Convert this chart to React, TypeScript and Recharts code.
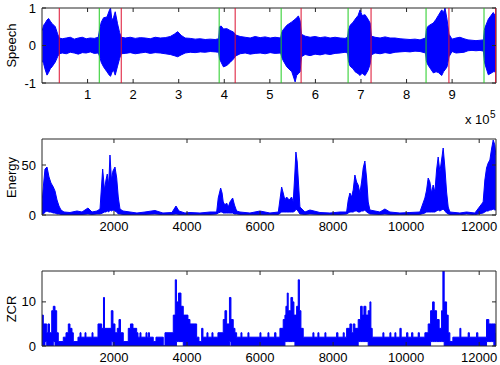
import { ComposedChart, Area, XAxis, YAxis, ReferenceLine, ReferenceArea } from "recharts";

const FONT = '"Liberation Sans", Arial, Helvetica, sans-serif';
const AX = "#262626";
const BLUE = "#0000ff";
const RED = "#dd1030";
const GREEN = "#22cc22";

// speech waveform envelope, x in units of 1e5 samples
const speechPos = [
  0.007, 0.035, 0.072, 0.11, 0.145, 0.182, 0.219, 0.292, 0.342, 0.379,
  0.445, 0.533, 0.621, 0.708, 0.796, 0.884, 0.971, 1.059, 1.147, 1.235,
  1.268, 1.3, 1.351, 1.425, 1.482, 1.504, 1.535, 1.57, 1.607, 1.658, 1.702, 1.739,
  1.827, 1.936, 2.046, 2.156, 2.265, 2.375, 2.485, 2.594, 2.704, 2.814, 2.901, 2.978, 3.055, 3.142, 3.252, 3.362, 3.472, 3.581, 3.691, 3.8, 3.877,
  3.895, 3.932, 3.982, 4.057, 4.129, 4.202, 4.25,
  4.349, 4.458, 4.568, 4.678, 4.787, 4.897, 5.007, 5.116, 5.237,
  5.259, 5.292, 5.373, 5.482, 5.555, 5.588, 5.627, 5.664, 5.693,
  5.774, 5.884, 5.993, 6.103, 6.213, 6.322, 6.432, 6.542, 6.651, 6.706,
  6.724, 6.761, 6.827, 6.871, 6.936, 6.98, 7.024, 7.09, 7.156, 7.2, 7.228,
  7.309, 7.419, 7.529, 7.638, 7.748, 7.857, 7.967, 8.077, 8.186, 8.296, 8.417,
  8.434, 8.461, 8.515, 8.588, 8.647, 8.697, 8.772, 8.811, 8.844, 8.888, 8.932,
  8.998, 9.086, 9.173, 9.261, 9.349, 9.436, 9.524, 9.612, 9.689,
  9.706, 9.722, 9.794, 9.853, 9.903, 9.941, 9.963,
];
const speechLow = [
  -0.4, -0.48, -0.65, -0.79, -0.72, -0.62, -0.57, -0.44, -0.3, -0.22,
  -0.2, -0.22, -0.18, -0.2, -0.23, -0.19, -0.2, -0.17, -0.21, -0.2,
  -0.3, -0.45, -0.57, -0.7, -0.8, -0.82, -0.72, -0.66, -0.79, -0.55, -0.35, -0.22,
  -0.21, -0.19, -0.22, -0.2, -0.18, -0.21, -0.19, -0.2, -0.22, -0.24, -0.27, -0.3, -0.25, -0.2, -0.18, -0.19, -0.17, -0.18, -0.16, -0.17, -0.18,
  -0.35, -0.45, -0.57, -0.53, -0.45, -0.36, -0.28,
  -0.22, -0.2, -0.23, -0.21, -0.2, -0.22, -0.19, -0.21, -0.2,
  -0.3, -0.4, -0.57, -0.7, -0.97, -0.8, -0.75, -0.7, -0.3,
  -0.24, -0.27, -0.23, -0.25, -0.22, -0.24, -0.21, -0.2, -0.18, -0.2,
  -0.4, -0.55, -0.62, -0.7, -0.75, -0.8, -0.74, -0.8, -0.66, -0.5, -0.25,
  -0.2, -0.22, -0.19, -0.21, -0.18, -0.17, -0.16, -0.17, -0.15, -0.16, -0.2,
  -0.4, -0.5, -0.6, -0.73, -0.7, -0.72, -0.8, -0.7, -0.65, -0.57, -0.3,
  -0.16, -0.2, -0.19, -0.18, -0.14, -0.13, -0.14, -0.13, -0.15,
  -0.4, -0.5, -0.78, -0.74, -0.7, -0.7, -0.7,
];
const speechHigh = [
  0.4, 0.54, 0.6, 0.68, 0.72, 0.65, 0.59, 0.5, 0.31, 0.2,
  0.18, 0.2, 0.22, 0.17, 0.2, 0.22, 0.18, 0.2, 0.19, 0.22,
  0.45, 0.62, 0.74, 0.76, 0.95, 1.0, 0.67, 0.75, 0.9, 0.58, 0.35, 0.22,
  0.2, 0.22, 0.19, 0.21, 0.2, 0.18, 0.22, 0.2, 0.21, 0.24, 0.3, 0.37, 0.27, 0.2, 0.19, 0.17, 0.18, 0.16, 0.17, 0.16, 0.18,
  0.5, 0.52, 0.44, 0.45, 0.4, 0.36, 0.28,
  0.24, 0.22, 0.2, 0.24, 0.21, 0.23, 0.2, 0.22, 0.2,
  0.35, 0.42, 0.54, 0.63, 0.7, 0.74, 0.79, 0.66, 0.3,
  0.25, 0.22, 0.24, 0.21, 0.23, 0.2, 0.22, 0.2, 0.19, 0.22,
  0.4, 0.54, 0.62, 0.7, 0.8, 0.95, 0.8, 0.82, 0.7, 0.6, 0.25,
  0.22, 0.2, 0.23, 0.2, 0.2, 0.18, 0.17, 0.16, 0.17, 0.15, 0.2,
  0.4, 0.5, 0.55, 0.6, 0.7, 0.8, 0.95, 0.88, 1.0, 0.7, 0.3,
  0.17, 0.2, 0.22, 0.18, 0.15, 0.14, 0.13, 0.14, 0.15,
  0.4, 0.48, 0.7, 0.8, 0.88, 0.8, 0.85,
];
const speechStarts = [1.257, 3.888, 5.248, 6.717, 8.428, 9.7];
const speechEnds = [0.379, 1.739, 4.239, 5.686, 7.221, 8.93, 9.955];

// short-time energy, x in frames
const energyFrame = [
  30, 71, 112, 167, 222, 276, 339, 386, 441, 495, 550,
  632, 796, 988, 1125, 1289, 1399, 1535, 1618,
  1691, 1741, 1782, 1817, 1856, 1891, 1932, 1973, 2028, 2075, 2118, 2165,
  2247, 2439, 2629, 2848, 3122, 3341, 3587, 3698, 3780, 3944, 4081, 4355, 4629, 4812,
  4855, 4921, 4960, 4992, 5040, 5085, 5130, 5176, 5250, 5300, 5359,
  5449, 5723, 5997, 6271, 6500,
  6591, 6634, 6680, 6727, 6799, 6864, 6908, 6955, 6982, 7018, 7056, 7092,
  7229, 7366, 7640, 7914, 8188, 8370,
  8414, 8460, 8507, 8550, 8597, 8643, 8687, 8734, 8780, 8824, 8870, 8917, 8961, 9008,
  9281, 9418, 9555, 9829, 10102, 10376,
  10513, 10560, 10603, 10650, 10696, 10740, 10787, 10833, 10877, 10924, 10970, 11014, 11061, 11107, 11151,
  11197, 11471, 11654, 11881,
  12108, 12155, 12201, 12246, 12292, 12338, 12383, 12429, 12456,
];
const energyHigh = [
  12, 30, 46, 48, 38, 32, 28, 24, 15, 9, 5,
  3, 2.5, 4, 3, 7, 3, 4, 6,
  46, 25, 35, 41, 30, 60, 35, 44, 48, 37, 18, 6,
  4, 3, 2, 3, 4.5, 2, 2.5, 9, 4, 2, 2.5, 2, 3, 3,
  17, 27, 22, 13, 10, 12, 8, 13, 17, 10, 4,
  3, 2, 4, 2, 3,
  28, 22, 15, 18, 15, 18, 13, 43, 63, 53, 30, 8,
  3, 5, 2.5, 2, 3, 3,
  15, 22, 18, 25, 40, 33, 30, 22, 33, 47, 54, 37, 13, 5,
  3, 6, 3, 2, 2.5, 3,
  17, 25, 37, 33, 22, 30, 23, 45, 58, 43, 55, 67, 47, 23, 8,
  3, 2, 3, 2,
  13, 35, 47, 52, 55, 66, 75, 70, 60,
];
const energyLow = [
  0, 1, 3, 4, 3, 3, 2, 2, 1, 1, 0.5,
  0.5, 0.5, 0.5, 0.5, 1, 0.5, 1, 1,
  2, 3, 3, 4, 3, 5, 4, 5, 4, 3, 1, 1,
  0.5, 0.5, 0.3, 0.5, 1, 0.3, 0.5, 1, 0.5, 0.3, 0.5, 0.3, 0.5, 1,
  2, 3, 3, 2, 2, 2, 2, 2, 2, 1, 1,
  0.5, 0.3, 0.5, 0.3, 0.5,
  3, 3, 3, 3, 3, 3, 3, 4, 6, 5, 3, 1,
  0.5, 1, 0.5, 0.3, 0.5, 1,
  2, 3, 3, 3, 4, 4, 3, 3, 4, 4, 5, 3, 2, 1,
  0.5, 1, 0.5, 0.3, 0.5, 0.5,
  2, 3, 3, 3, 3, 3, 3, 4, 5, 4, 5, 6, 4, 2, 1,
  0.5, 0.3, 1, 0.3,
  2, 3, 4, 4, 5, 5, 6, 5, 5,
];

// zero crossing rate (step values), x in frames
const zcrFrame = [
  30, 66, 112, 159, 194, 235, 296, 339, 386, 432, 476,
  613, 687, 750, 796, 851, 887, 1015, 1070, 1098, 1207, 1234, 1399, 1426,
  1563, 1664, 1713, 1741, 1927, 1973, 2028, 2091, 2138, 2179, 2255,
  2392, 2452, 2521, 2622, 2658, 2712, 2740, 2877, 2904, 2940, 2972, 3076, 3150, 3350, 3397,
  3624, 3679, 3711, 3766, 3835, 3898, 4026, 4081, 4264, 4327,
  4401, 4437, 4546, 4574, 4683, 4711, 4847,
  4992, 5039, 5085, 5162, 5203, 5266, 5312, 5359,
  5477, 5504, 5668, 5696, 5997, 6024, 6216, 6243, 6399, 6435, 6544,
  6634, 6681, 6708, 6744, 6771, 6845, 6891, 6927, 6955, 7001, 7045, 7078, 7119, 7182,
  7447, 7475, 7584, 7612, 7776, 7803, 8096, 8132, 8277, 8304,
  8370, 8460, 8507, 8550, 8597, 8687, 8753, 8797, 8843, 8898, 8961, 9008, 9035, 9071,
  9363, 9391, 9555, 9582, 9692, 9719, 9829, 9864, 10012, 10048, 10149, 10184, 10330, 10362,
  10513, 10603, 10669, 10724, 10768, 10833, 10904, 10970, 11006, 11041, 11107, 11151, 11197,
  11279, 11471, 11498, 11698, 11731, 11928, 11963,
  12201, 12264, 12338, 12401, 12442, 12460,
];
const zcrHigh = [
  7, 5, 5, 3, 5, 3, 8, 9, 8, 3, 1,
  2, 3, 5, 4, 3, 1, 2, 3, 2, 3, 2, 3, 2,
  5, 4, 11, 4, 8, 5, 3, 4, 6, 3, 1,
  4, 5, 4, 3, 2, 3, 2, 3, 2, 3, 2, 1, 2, 0, 3,
  7, 15, 10, 12, 9, 7, 6, 5, 2, 1,
  4, 2, 3, 2, 3, 2, 3,
  6, 8, 5, 11, 6, 4, 3, 2,
  3, 2, 3, 2, 3, 2, 3, 2, 3, 2, 4,
  6, 7, 9, 12, 8, 11, 10, 7, 7, 9, 15, 8, 4, 2,
  3, 2, 3, 2, 3, 2, 3, 2, 3, 2,
  4, 5, 3, 5, 4, 6, 9, 7, 9, 7, 8, 10, 4, 2,
  3, 2, 3, 2, 3, 2, 4, 2, 3, 2, 3, 2, 3, 2,
  3, 5, 8, 10, 8, 6, 4, 8, 17, 10, 7, 3, 1,
  2, 4, 2, 3, 2, 3, 2,
  6, 5, 5, 5, 3, 3,
];
const zcrLow = [
  0, 0, 1, 0, 0, 0, 0, 1, 0, 0, 0,
  0, 0, 0, 0, 0, 0, 0, 0, 0, 0, 0, 0, 0,
  0, 0, 0, 0, 1, 0, 0, 0, 0, 0, 0,
  0, 0, 0, 0, 0, 0, 0, 0, 0, 0, 0, 0, 0, 0, 0,
  0, 0, 1, 1, 1, 0, 0, 0, 0, 0,
  0, 0, 0, 0, 0, 0, 0,
  0, 0, 0, 1, 0, 0, 0, 0,
  0, 0, 0, 0, 0, 0, 0, 0, 0, 0, 0,
  0, 1, 1, 1, 1, 1, 1, 1, 0, 0, 0, 0, 0, 0,
  0, 0, 0, 0, 0, 0, 0, 0, 0, 0,
  0, 0, 0, 0, 0, 1, 1, 1, 1, 1, 0, 0, 0, 0,
  0, 0, 0, 0, 0, 0, 0, 0, 0, 0, 0, 0, 0, 0,
  0, 0, 1, 1, 1, 1, 1, 1, 1, 0, 0, 0, 0,
  0, 0, 0, 0, 0, 0, 0,
  1, 1, 1, 0, 0, 0,
];

const speechXTicks = [1, 2, 3, 4, 5, 6, 7, 8, 9];
const frameTicks = [2000, 4000, 6000, 8000, 10000, 12000];
const speechYTicks = [-1, 0, 1];
const energyYTicks = [0, 50];
const zcrYTicks = [0, 10];

const speechData = speechPos.map((x, i) => ({ x, range: [speechLow[i], speechHigh[i]] }));
const energyData = energyFrame.map((x, i) => ({ x, range: [energyLow[i], energyHigh[i]] }));
const zcrData = zcrFrame.map((x, i) => ({ x, range: [zcrLow[i], zcrHigh[i]] }));

const LEFT = 42;
const RIGHT = 496;

type PanelProps = {
  top: number;
  plotH: number;
  data: { x: number; range: number[] }[];
  xDomain: [number, number];
  yDomain: [number, number];
  xTicks: number[];
  yTicks: number[];
  curve: "linear" | "stepAfter";
  children?: React.ReactNode;
};

const Panel = ({ top, plotH, data, xDomain, yDomain, xTicks, yTicks, curve, children }: PanelProps) => {
  const plotTop = 8;
  const plotBottom = 8 + plotH;
  const h = plotBottom + 20;

  const xTick = (p: any) => (
    <g>
      <line x1={p.x} x2={p.x} y1={plotBottom} y2={plotBottom - 4} stroke={AX} />
      <line x1={p.x} x2={p.x} y1={plotTop} y2={plotTop + 4} stroke={AX} />
      <text x={p.x} y={plotBottom + 15.5} textAnchor="middle" fontSize={13} fontFamily={FONT} fill="#000">
        {p.payload.value}
      </text>
    </g>
  );
  const yTick = (p: any) => (
    <g>
      <line x1={LEFT} x2={LEFT + 4} y1={p.y} y2={p.y} stroke={AX} />
      <line x1={RIGHT} x2={RIGHT - 4} y1={p.y} y2={p.y} stroke={AX} />
      <text x={36} y={p.y + 4.5} textAnchor="end" fontSize={13} fontFamily={FONT} fill="#000">
        {p.payload.value}
      </text>
    </g>
  );

  return (
    <div style={{ position: "absolute", left: 0, top, width: 500, height: h }}>
      <ComposedChart width={500} height={h} data={data} margin={{ top: 8, right: 500 - RIGHT, bottom: 0, left: 0 }}>
        <XAxis
          type="number"
          dataKey="x"
          domain={xDomain}
          ticks={xTicks}
          interval={0}
          tick={xTick}
          tickLine={false}
          axisLine={false}
          height={20}
          allowDataOverflow
        />
        <YAxis
          type="number"
          domain={yDomain}
          ticks={yTicks}
          interval={0}
          tick={yTick}
          tickLine={false}
          axisLine={false}
          width={LEFT}
          allowDataOverflow
        />
        <Area
          dataKey="range"
          type={curve}
          stroke={BLUE}
          strokeWidth={1}
          fill={BLUE}
          fillOpacity={1}
          dot={false}
          activeDot={false}
          isAnimationActive={false}
        />
        {children}
        <ReferenceArea
          x1={xDomain[0]}
          x2={xDomain[1]}
          y1={yDomain[0]}
          y2={yDomain[1]}
          fill="none"
          fillOpacity={0}
          stroke={AX}
          strokeWidth={1}
          ifOverflow="visible"
        />
      </ComposedChart>
    </div>
  );
};

export default function App() {
  return (
    <div style={{ position: "absolute", left: 0, top: 0, width: 500, height: 365, background: "#fff", fontFamily: FONT }}>
      <Panel
        top={0}
        plotH={75}
        data={speechData}
        xDomain={[0, 9.963]}
        yDomain={[-1, 1]}
        xTicks={speechXTicks}
        yTicks={speechYTicks}
        curve="linear"
      >
        {speechStarts.map((x) => (
          <ReferenceLine key={"s" + x} x={x} stroke={GREEN} strokeWidth={1} />
        ))}
        {speechEnds.map((x) => (
          <ReferenceLine key={"e" + x} x={x} stroke={RED} strokeWidth={1} />
        ))}
      </Panel>
      <Panel
        top={131}
        plotH={76}
        data={energyData}
        xDomain={[30, 12460]}
        yDomain={[0, 76]}
        xTicks={frameTicks}
        yTicks={energyYTicks}
        curve="linear"
      />
      <Panel
        top={263}
        plotH={75}
        data={zcrData}
        xDomain={[30, 12460]}
        yDomain={[0, 17]}
        xTicks={frameTicks}
        yTicks={zcrYTicks}
        curve="stepAfter"
      />
      <svg width={500} height={365} style={{ position: "absolute", left: 0, top: 0, pointerEvents: "none" }}>
        <g fontFamily={FONT} fontSize={13} fill="#000">
          <text x={15.5} y={45.5} textAnchor="middle" transform="rotate(-90 15.5 45.5)">Speech</text>
          <text x={15.5} y={177.5} textAnchor="middle" transform="rotate(-90 15.5 177.5)">Energy</text>
          <text x={15.5} y={309} textAnchor="middle" transform="rotate(-90 15.5 309)">ZCR</text>
          <text x={465} y={124}>x 10</text>
          <text x={490} y={118} fontSize={10}>5</text>
        </g>
      </svg>
    </div>
  );
}
